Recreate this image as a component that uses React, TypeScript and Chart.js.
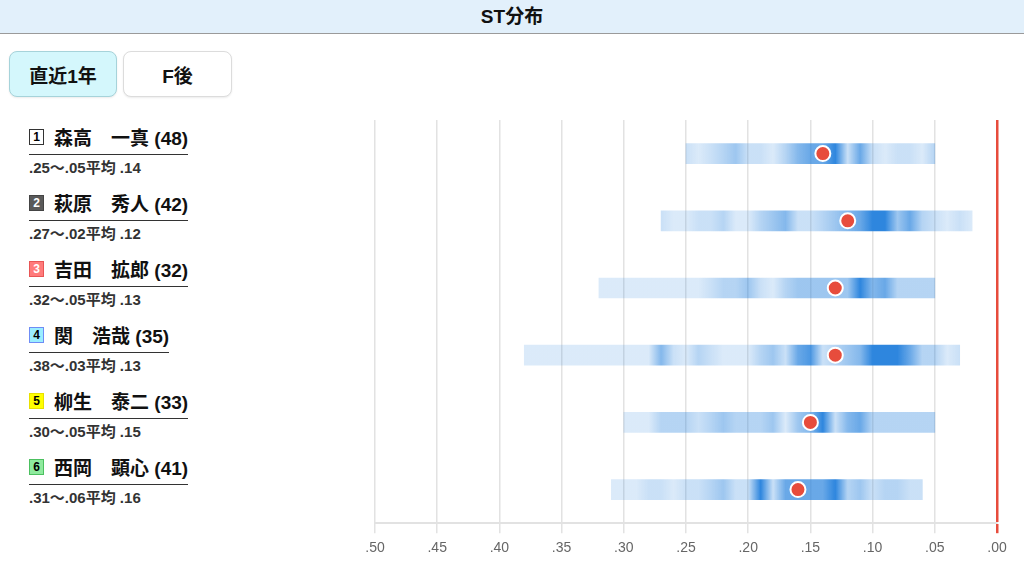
import React, { useEffect, useRef } from 'react';
import { Chart, registerables } from 'chart.js';

Chart.register(...registerables);

const FONT = '"Liberation Sans", Arial, "Noto Sans CJK JP", sans-serif';

// ---- data ----
const title = 'ST分布';
const tabs = ['直近1年', 'F後'];
const lanes = [1, 2, 3, 4, 5, 6];
const players = ['森高　一真', '萩原　秀人', '吉田　拡郎', '関　浩哉', '柳生　泰二', '西岡　顕心'];
const ages = [48, 42, 32, 35, 33, 41];
const stSlowest = [0.25, 0.27, 0.32, 0.38, 0.3, 0.31];
const stFastest = [0.05, 0.02, 0.05, 0.03, 0.05, 0.06];
const stAverage = [0.14, 0.12, 0.13, 0.13, 0.15, 0.16];
// relative frequency of each ST (0.01 steps, from slowest to fastest)
const density1 = [2, 1, 2, 3, 4, 2, 2, 1, 3, 5, 6, 6, 8, 2, 6, 2, 1, 2, 2, 1, 3];
const density2 = [2, 1, 1, 2, 2, 3, 1, 1, 3, 4, 5, 2, 2, 3, 4, 5, 6, 8, 8, 4, 6, 3, 2, 1, 2, 1];
const density3 = [1, 1, 1, 1, 1, 1, 1, 1, 1, 2, 3, 3, 4, 2, 1, 3, 4, 4, 4, 4, 4, 8, 5, 6, 3, 3, 3, 3];
const density4 = [1, 1, 1, 1, 1, 1, 1, 1, 1, 1, 1, 5, 2, 1, 3, 2, 1, 1, 1, 3, 4, 2, 6, 7, 2, 3, 4, 5, 8, 8, 8, 6, 3, 3, 1, 2];
const density5 = [1, 1, 1, 3, 3, 3, 2, 3, 4, 3, 3, 3, 4, 1, 4, 5, 8, 2, 5, 6, 3, 3, 3, 3, 3, 3];
const density6 = [1, 1, 1, 2, 2, 1, 2, 2, 3, 4, 2, 2, 8, 2, 6, 6, 6, 6, 8, 3, 4, 2, 3, 3, 2, 2];
const densities = [density1, density2, density3, density4, density5, density6];

// ---- styles ----
const laneStyles = [
  { bg: '#ffffff', border: '#333333', color: '#000000' },
  { bg: '#5a5a5a', border: '#444444', color: '#ffffff' },
  { bg: '#ff7b7b', border: '#e85555', color: '#ffffff' },
  { bg: '#9beeff', border: '#6f8cf5', color: '#000000' },
  { bg: '#ffff00', border: '#e8e000', color: '#000000' },
  { bg: '#8fea9e', border: '#4cc060', color: '#000000' },
];

const densityColor = (c: number) => {
  const a = 0.12 + 0.88 * Math.pow(c / 8, 1.35);
  return `rgba(46,134,222,${a.toFixed(3)})`;
};

const isZero = (v: number) => Math.abs(v) < 1e-9;
const fmt = (v: number) => v.toFixed(2).replace(/^0/, '');

function StChart() {
  const ref = useRef<HTMLCanvasElement | null>(null);
  useEffect(() => {
    if (!ref.current) return;
    const chart = new Chart(ref.current, {
      type: 'bar',
      data: {
        labels: players,
        datasets: [
          {
            type: 'scatter' as any,
            data: stAverage.map((v, i) => ({ x: v, y: players[i] })) as any,
            pointRadius: 7.5,
            pointHoverRadius: 7.5,
            pointBackgroundColor: '#e74c3c',
            pointBorderColor: '#ffffff',
            pointBorderWidth: 2,
            order: 0,
          } as any,
          {
            type: 'bar',
            data: stSlowest.map((v, i) => [stFastest[i], v]) as any,
            barThickness: 20,
            borderWidth: 0,
            order: 1,
            backgroundColor: (ctx: any) => {
              const ch = ctx.chart;
              const xs = ch.scales.x;
              if (ctx.type !== 'data' || !ch.chartArea || !xs) return 'rgba(46,134,222,0.3)';
              const i = ctx.dataIndex;
              const hi = stSlowest[i];
              const lo = stFastest[i];
              const x0 = xs.getPixelForValue(hi);
              const x1 = xs.getPixelForValue(lo);
              const g = ch.ctx.createLinearGradient(x0, 0, x1, 0);
              densities[i].forEach((c, k) => {
                const v = hi - k * 0.01;
                let p = (xs.getPixelForValue(v) - x0) / (x1 - x0);
                p = Math.max(0, Math.min(1, p));
                g.addColorStop(p, densityColor(c));
              });
              return g;
            },
          } as any,
        ],
      },
      options: {
        indexAxis: 'y',
        animation: false,
        responsive: true,
        maintainAspectRatio: false,
        layout: { padding: { top: 10, left: 20, right: 27, bottom: 12 } },
        plugins: { legend: { display: false }, tooltip: { enabled: false } },
        scales: {
          x: {
            type: 'linear',
            min: 0,
            max: 0.5,
            reverse: true,
            ticks: {
              stepSize: 0.05,
              padding: 7,
              color: '#666666',
              font: { size: 14, family: FONT },
              callback: (v: any) => fmt(Number(v)),
            },
            grid: {
              color: (c: any) => (c.tick && isZero(c.tick.value) ? '#e74c3c' : '#e2e2e2'),
              tickColor: (c: any) => (c.tick && isZero(c.tick.value) ? '#e74c3c' : '#e2e2e2'),
              lineWidth: (c: any) => (c.tick && isZero(c.tick.value) ? 2.5 : 1.5),
              tickLength: 10,
            },
            border: { display: true, color: '#e2e2e2', width: 2 },
          },
          y: {
            type: 'category',
            offset: true,
            display: false,
          },
        },
      } as any,
    });
    return () => chart.destroy();
  }, []);
  return (
    <div style={{ position: 'absolute', left: 355, top: 110, width: 669, height: 466 }}>
      <canvas ref={ref} />
    </div>
  );
}

export default function App() {
  return (
    <div
      style={{
        position: 'absolute',
        left: 0,
        top: 0,
        width: 1024,
        height: 576,
        overflow: 'hidden',
        background: '#ffffff',
        fontFamily: FONT,
        color: '#111',
      }}
    >
      <div
        style={{
          position: 'absolute',
          left: 0,
          top: 0,
          width: 1024,
          height: 33,
          background: '#e2f0fb',
          borderBottom: '1px solid #9a9a9a',
          textAlign: 'center',
          lineHeight: '33px',
          fontSize: 19,
          fontWeight: 'bold',
          color: '#111',
        }}
      >
        {title}
      </div>
      {tabs.map((t, i) => (
        <div
          key={t}
          style={{
            position: 'absolute',
            left: i === 0 ? 9 : 123,
            top: 51,
            width: i === 0 ? 108 : 109,
            height: 46,
            boxSizing: 'border-box',
            borderRadius: 8,
            border: i === 0 ? '1px solid #a6d3da' : '1px solid #dcdcdc',
            background: i === 0 ? '#d4f7fc' : '#ffffff',
            boxShadow: '0 1px 2px rgba(0,0,0,0.08)',
            display: 'flex',
            alignItems: 'center',
            justifyContent: 'center',
            fontSize: 19,
            fontWeight: 'bold',
            color: '#111',
          }}
        >
          {t}
        </div>
      ))}
      {players.map((p, i) => (
        <div key={p} style={{ position: 'absolute', left: 29, top: 123 + i * 66 }}>
          <div
            style={{
              display: 'inline-flex',
              alignItems: 'center',
              height: 26,
              paddingBottom: 5,
              borderBottom: '1.5px solid #333',
              whiteSpace: 'nowrap',
            }}
          >
            <span
              style={{
                display: 'inline-flex',
                alignItems: 'center',
                justifyContent: 'center',
                boxSizing: 'border-box',
                width: 15,
                height: 16,
                border: `1px solid ${laneStyles[i].border}`,
                background: laneStyles[i].bg,
                color: laneStyles[i].color,
                fontSize: 12,
                fontWeight: 'bold',
                marginRight: 10,
                marginTop: 2,
              }}
            >
              {lanes[i]}
            </span>
            <span style={{ fontSize: 19, fontWeight: 'bold', color: '#111' }}>
              {p} ({ages[i]})
            </span>
          </div>
          <div
            style={{
              fontSize: 15,
              lineHeight: '18px',
              marginTop: 4,
              fontWeight: 'bold',
              color: '#333',
              whiteSpace: 'nowrap',
            }}
          >
            {`${fmt(stSlowest[i])}～${fmt(stFastest[i])}平均 ${fmt(stAverage[i])}`}
          </div>
        </div>
      ))}
      <StChart />
    </div>
  );
}
